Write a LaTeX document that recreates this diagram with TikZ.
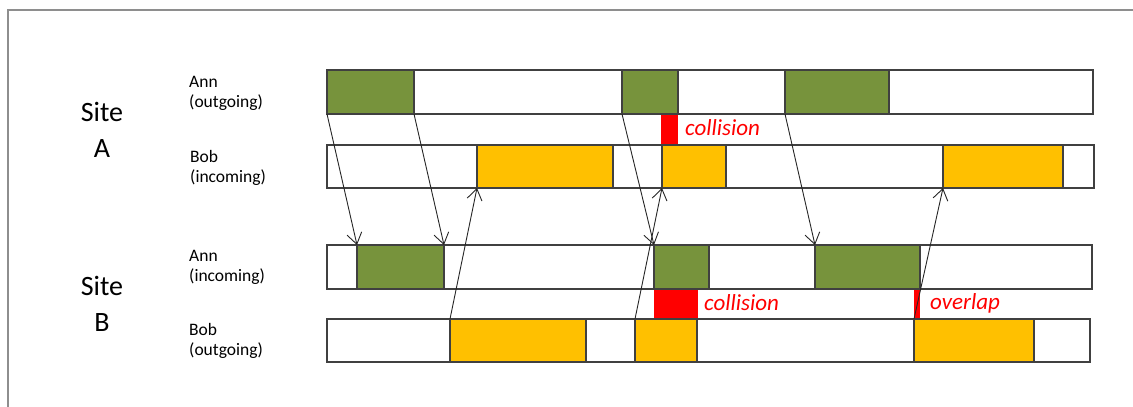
\documentclass[tikz,border=0pt]{standalone}
\usepackage{fontspec}
\setmainfont{Carlito}
\usetikzlibrary{arrows.meta}
\definecolor{olive}{HTML}{77933C}
\definecolor{amber}{HTML}{FFC000}
\definecolor{edge}{HTML}{404040}
\definecolor{framegray}{HTML}{8E8E8E}
\tikzset{
  cell/.style={draw=edge, line width=1.2pt, anchor=north west, inner sep=0pt, outer sep=0pt},
  bar/.style={cell, fill=white},
  gblk/.style={cell, fill=olive},
  yblk/.style={cell, fill=amber},
  rblk/.style={anchor=north west, inner sep=0pt, outer sep=0pt, fill=red, draw=none},
  msg/.style={draw=black!85, line width=0.9pt, -{Straight Barb[length=11pt,width=15pt,line width=0.9pt]}, shorten >=0pt, shorten <=0pt},
  site/.style={align=center, font=\fontsize{28}{36}\selectfont, inner sep=0pt},
  who/.style={align=left, anchor=west, font=\fontsize{17.5}{20}\selectfont, inner sep=0pt},
  warn/.style={anchor=west, text=red, font=\fontsize{23}{24}\selectfont\itshape, inner sep=0pt}
}
\begin{document}
\begin{tikzpicture}[x=1pt,y=-1pt]
\useasboundingbox (0,0) rectangle (1133,407);
\draw[framegray, line width=2pt] (8,407) -- (8,10) -- (1133,10);

% bars
\node[bar, minimum width=766pt, minimum height=44pt] (barA1) at (327,70) {};
\node[bar, minimum width=767pt, minimum height=43pt] (barA2) at (327,145) {};
\node[bar, minimum width=765pt, minimum height=44pt] (barB1) at (327,245) {};
\node[bar, minimum width=763pt, minimum height=43pt] (barB2) at (327,319) {};

% red markers
\node[rblk, minimum width=17pt, minimum height=31pt] (rA) at (661,114) {};
\node[rblk, minimum width=44pt, minimum height=30pt] (rB) at (654,289) {};
\node[rblk, minimum width=6pt, minimum height=30pt] (rC) at (914,289) {};

% Ann outgoing (site A)
\node[gblk, minimum width=87pt, minimum height=44pt] (g1) at (327,70) {};
\node[gblk, minimum width=56pt, minimum height=44pt] (g2) at (622,70) {};
\node[gblk, minimum width=104pt, minimum height=44pt] (g3) at (785,70) {};
% Bob incoming (site A)
\node[yblk, minimum width=136pt, minimum height=43pt] (y1) at (477,145) {};
\node[yblk, minimum width=64pt, minimum height=43pt] (y2) at (662,145) {};
\node[yblk, minimum width=120pt, minimum height=43pt] (y3) at (943,145) {};
% Ann incoming (site B)
\node[gblk, minimum width=87pt, minimum height=44pt] (g4) at (357,245) {};
\node[gblk, minimum width=55pt, minimum height=44pt] (g5) at (654,245) {};
\node[gblk, minimum width=105pt, minimum height=44pt] (g6) at (815,245) {};
% Bob outgoing (site B)
\node[yblk, minimum width=136pt, minimum height=43pt] (y4) at (450,319) {};
\node[yblk, minimum width=62pt, minimum height=43pt] (y5) at (635,319) {};
\node[yblk, minimum width=120pt, minimum height=43pt] (y6) at (914,319) {};

% messages
\draw[msg] (g1.south west) -- (g4.north west);
\draw[msg] (g1.south east) -- (g4.north east);
\draw[msg] (g2.south west) -- (g5.north west);
\draw[msg] (g3.south west) -- (g6.north west);
\draw[msg] (y4.north west) -- (y1.south west);
\draw[msg] (y5.north west) -- (y2.south west);
\draw[msg] (y6.north west) -- (y3.south west);

% labels
\node[site] (siteA) at (102,130) {Site\\A};
\node[site] (siteB) at (102,304) {Site\\B};
\node[who] (lA1) at (189,93) {Ann\\(outgoing)};
\node[who] (lA2) at (190,167.5) {Bob\\(incoming)};
\node[who] (lB1) at (189,267) {Ann\\(incoming)};
\node[who] (lB2) at (189,341) {Bob\\(outgoing)};
\node[warn] (cA) at (685,128) {collision};
\node[warn] (cB) at (704,303) {collision};
\node[warn] (ov) at (930,303) {overlap};
\end{tikzpicture}
\end{document}
